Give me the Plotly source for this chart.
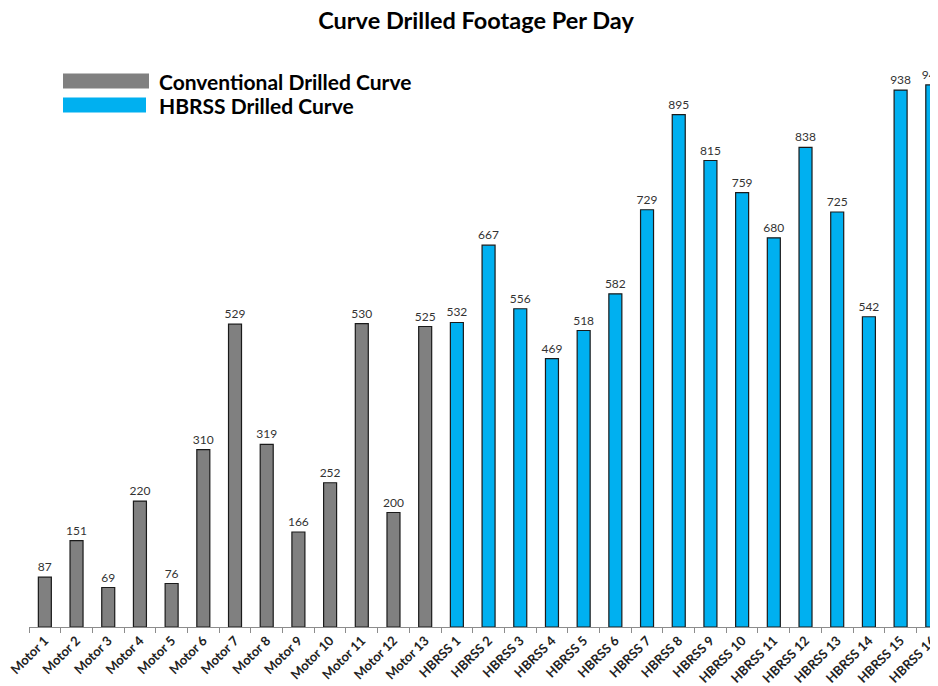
import plotly.graph_objects as go

# valores
motor_names = ['Motor %d' % i for i in range(1, 14)]
motor_values = [87, 151, 69, 220, 76, 310, 529, 319, 166, 252, 530, 200, 525]

hbrss_names = ['HBRSS %d' % i for i in range(1, 17)]
hbrss_values = [532, 667, 556, 469, 518, 582, 729, 895, 815, 759, 680, 838, 725, 542, 938, 947]

series_names = ['Conventional Drilled Curve', 'HBRSS Drilled Curve']
series_colors = ['#808080', '#00B0F0']

FONT = 'Lato'
# a página tem 8px de margem no body, então a figura começa em (8, 8)
OFF = 8

fig = go.Figure()

fig.add_trace(go.Bar(x=motor_names, y=motor_values, text=motor_values,
                     name=series_names[0], marker_color=series_colors[0]))
fig.add_trace(go.Bar(x=hbrss_names, y=hbrss_values, text=hbrss_values,
                     name=series_names[1], marker_color=series_colors[1]))

fig.update_traces(marker_line=dict(color='#1a1a1a', width=1.2), width=0.41,
                  textposition='outside', cliponaxis=False, constraintext='none',
                  textfont=dict(family=FONT, size=12, color='#333333'))

# legenda desenhada à mão (faixas largas como no original)
legend_y = [81, 105]
for name, color, yy, x1 in zip(series_names, series_colors, legend_y, [149, 146]):
    fig.add_shape(type='rect', xref='paper', yref='paper',
                  x0=(63 - 29) / 909, x1=(x1 - 29) / 909,
                  y0=(627 - yy - 7.5) / 601, y1=(627 - yy + 7.5) / 601,
                  fillcolor=color, line_width=0, layer='above')
    fig.add_annotation(x=(157 - 29) / 909, y=(627 - yy) / 601, xref='paper', yref='paper',
                       text='<b>%s</b>' % name, showarrow=False, xanchor='left', yanchor='middle',
                       font=dict(family=FONT, size=21, color='black'))

fig.update_layout(
    title=dict(text='<b>Curve Drilled Footage Per Day</b>', x=(476 - OFF) / 930, xanchor='center',
               y=1 - (21 - OFF) / 678, yanchor='middle', yref='container',
               font=dict(family=FONT, size=23.5, color='black')),
    barmode='overlay',
    showlegend=False,
    width=930, height=678,
    margin=dict(l=29 - OFF, r=0, t=26 - OFF, b=59),
    plot_bgcolor='white', paper_bgcolor='white',
    xaxis=dict(type='category', range=[-0.5, 28.18], tickangle=-45,
               tickfont=dict(family=FONT, size=13, color='#222222', weight='bold'),
               showline=True, linecolor='#8c8c8c', linewidth=1,
               ticks='outside', tickson='boundaries', ticklen=5, tickcolor='#8c8c8c',
               showgrid=False, automargin=False),
    yaxis=dict(range=[0, 1050], visible=False, showgrid=False),
)

fig.write_html('out.html')
